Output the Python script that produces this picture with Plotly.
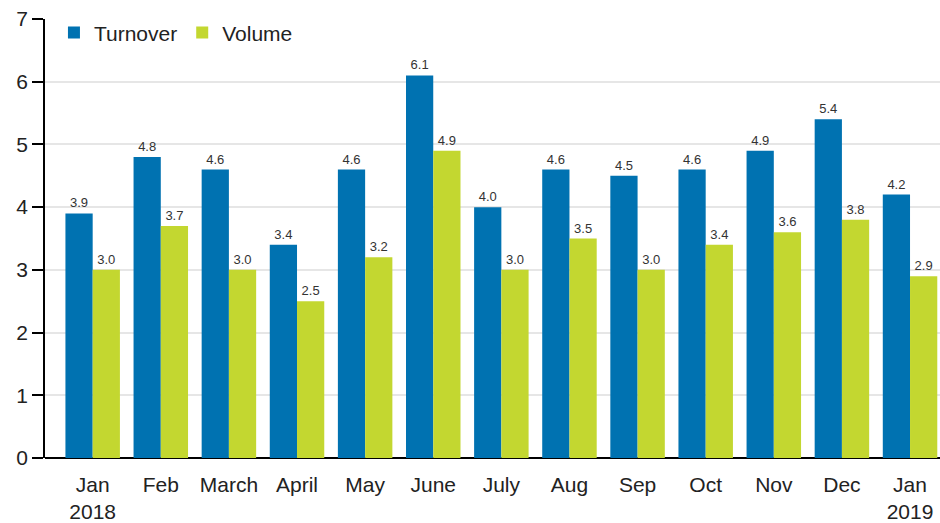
import plotly.graph_objects as go

categories = ["Jan<br>2018", "Feb", "March", "April", "May", "June", "July",
              "Aug", "Sep", "Oct", "Nov", "Dec", "Jan<br>2019"]
turnover = [3.9, 4.8, 4.6, 3.4, 4.6, 6.1, 4.0, 4.6, 4.5, 4.6, 4.9, 5.4, 4.2]
volume = [3.0, 3.7, 3.0, 2.5, 3.2, 4.9, 3.0, 3.5, 3.0, 3.4, 3.6, 3.8, 2.9]
y_ticks = [0, 1, 2, 3, 4, 5, 6, 7]

xs = list(range(len(categories)))
font = "Liberation Sans, Arial, sans-serif"

fig = go.Figure()
fig.add_trace(go.Bar(x=xs, y=turnover, name="Turnover", marker_color="#0072b1",
                     marker_line_width=0,
                     text=[f"{v:.1f}" for v in turnover], textposition="outside",
                     textfont=dict(size=13, color="#333333", family=font), cliponaxis=False))
fig.add_trace(go.Bar(x=xs, y=volume, name="Volume", marker_color="#c3d730",
                     marker_line_width=0,
                     text=[f"{v:.1f}" for v in volume], textposition="outside",
                     textfont=dict(size=13, color="#333333", family=font), cliponaxis=False))

fig.update_layout(
    width=940, height=523,
    margin=dict(l=45, r=0, t=19, b=65),
    plot_bgcolor="white", paper_bgcolor="white",
    barmode="group", bargap=0.2, bargroupgap=0,
    font=dict(family=font, size=21, color="#222222"),
    showlegend=True,
    legend=dict(orientation="h", x=0.01, y=1.015, xanchor="left", yanchor="top",
                font=dict(size=21), bgcolor="rgba(0,0,0,0)", itemwidth=30),
)
fig.update_xaxes(tickvals=xs, ticktext=categories, range=[-0.7, 12.44],
                 showgrid=False, showline=False, ticks="", zeroline=False,
                 ticklabelstandoff=12,
                 tickfont=dict(size=21, family=font))
fig.update_yaxes(range=[0, 7], tickvals=y_ticks, showgrid=True, gridcolor="#e6e6e6",
                 gridwidth=1.5,
                 showline=True, linecolor="#000000", linewidth=1.5,
                 ticks="outside", ticklen=11, tickcolor="#000000", tickwidth=1.5,
                 zeroline=True, zerolinecolor="#000000", zerolinewidth=1.5,
                 tickfont=dict(size=21, family=font))

fig.write_html("out.html", config={"displayModeBar": False},
               post_script="document.body.style.margin='0';document.body.style.overflow='hidden';")
